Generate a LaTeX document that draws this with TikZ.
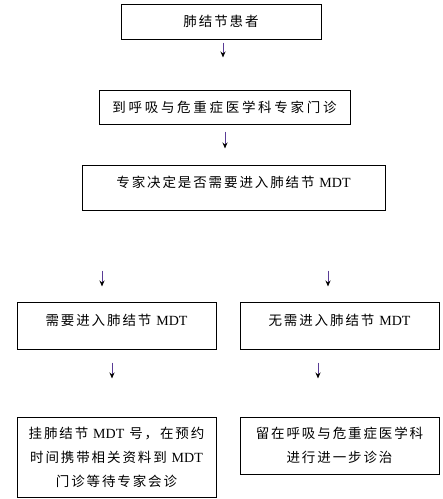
\documentclass[tikz,border=0pt]{standalone}
\usepackage{fontspec}
\newfontfamily\cjk{Noto Sans CJK SC}[LetterSpace=14]
\newfontfamily\tnr{Liberation Serif}
\usetikzlibrary{arrows.meta,calc}
\definecolor{arrowc}{RGB}{90,60,150}
\newcommand\MDT{{\tnr\fontsize{14pt}{24pt}\selectfont MDT}}
\begin{document}
\begin{tikzpicture}[x=1pt,y=-1pt,
  box/.style={draw, line width=1pt, inner sep=0pt, font=\cjk\fontsize{13.5pt}{24pt}\selectfont, align=center},
  arr/.style={draw=arrowc, line width=1pt, -{Stealth[length=6pt,width=5pt,color=black]}}]
\useasboundingbox (0,0) rectangle (443,499);
\node[box, minimum width=200pt, minimum height=35pt] (b1) at (221,21.5) {肺结节患者};
\node[box, minimum width=251pt, minimum height=34pt] (b2) at (224.5,107) {\addfontfeature{LetterSpace=20}到呼吸与危重症医学科专家门诊};
\node[box, minimum width=303pt, text height=22pt, text depth=23pt] (b3) at (233.5,187.5) {专家决定是否需要进入肺结节 \MDT};
\node[box, minimum width=199pt, text height=23pt, text depth=24pt] (l2a) at (116.5,325.5) {需要进入肺结节 \MDT};
\node[box, minimum width=199pt, text height=23pt, text depth=24pt] (l2b) at (339.5,325.5) {无需进入肺结节 \MDT};
\node[box, minimum width=199pt, minimum height=80pt] (l3a) at (116.5,457) {挂肺结节 \MDT{} 号，在预约\\时间携带相关资料到 \MDT\\门诊等待专家会诊};
\node[box, minimum width=199pt, minimum height=57pt] (l3b) at (339.5,445.5) {留在呼吸与危重症医学科\\进行进一步诊治};
\draw[arr] ($(b1.south)+(2,3)$) -- ++(0,15);
\draw[arr] ($(b2.south)+(0.5,7)$) -- ++(0,17);
\draw[arr] ($(b3.south)+(-131.5,60)$) -- ++(0,16);
\draw[arr] ($(b3.south)+(94.5,60)$) -- ++(0,16);
\draw[arr] ($(l2a.south)+(-4.5,13)$) -- ++(0,16);
\draw[arr] ($(l2b.south)+(-21.5,13)$) -- ++(0,16);
\end{tikzpicture}
\end{document}
